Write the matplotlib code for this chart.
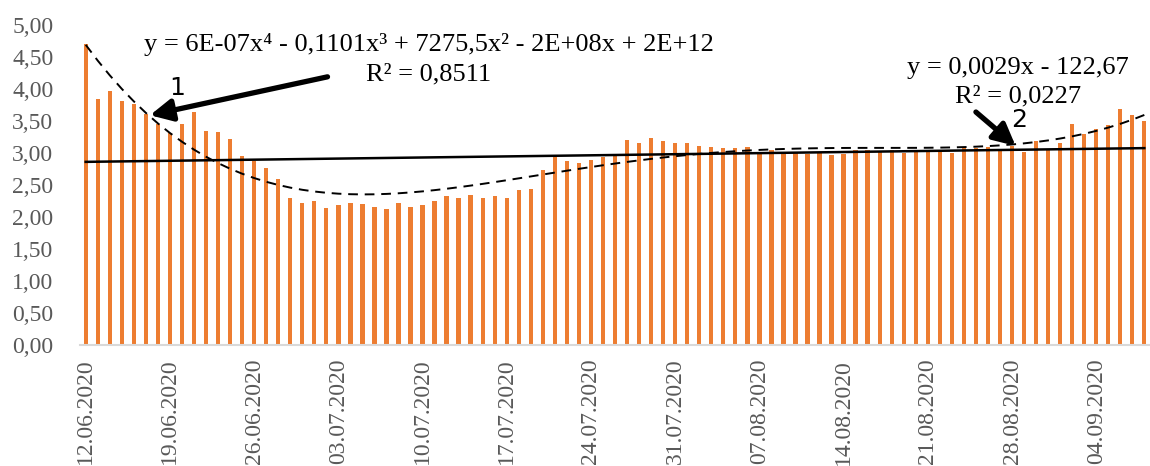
import numpy as np
import matplotlib
matplotlib.use('Agg')
import matplotlib.pyplot as plt
import pandas as pd

dates = pd.date_range('2020-06-12', '2020-09-08', freq='D')
values = [4.71, 3.85, 3.97, 3.81, 3.76, 3.61, 3.46, 3.31, 3.45, 3.64,
          3.35, 3.33, 3.22, 2.95, 2.88, 2.76, 2.59, 2.30, 2.22, 2.25,
          2.14, 2.18, 2.22, 2.20, 2.15, 2.13, 2.22, 2.15, 2.18, 2.25,
          2.33, 2.30, 2.34, 2.30, 2.32, 2.30, 2.42, 2.44, 2.73, 2.93,
          2.88, 2.85, 2.89, 2.94, 2.96, 3.21, 3.16, 3.23, 3.19, 3.16,
          3.16, 3.11, 3.09, 3.07, 3.07, 3.09, 3.01, 3.05, 3.01, 3.01,
          2.99, 3.02, 2.97, 2.99, 3.04, 3.05, 3.03, 3.04, 3.00, 3.02,
          3.04, 3.04, 3.00, 3.08, 3.08, 3.10, 3.05, 3.11, 3.02, 3.18,
          3.05, 3.16, 3.45, 3.30, 3.38, 3.43, 3.69, 3.60, 3.50]

eq_poly = 'y = 6E-07x⁴ - 0,1101x³ + 7275,5x² - 2E+08x + 2E+12'
r2_poly = 'R² = 0,8511'
eq_lin = 'y = 0,0029x - 122,67'
r2_lin = 'R² = 0,0227'

x = np.arange(len(values))
y = np.array(values)

# trend lines (as in Excel)
p4 = np.polyfit(x, y, 4)
p1 = np.polyfit(x, y, 1)

serif = ['Liberation Serif', 'DejaVu Serif']
gray = '#595959'

fig = plt.figure(figsize=(11.5, 4.66), dpi=100)
ax = fig.add_axes([0.0693, 0.2597, 0.931, 0.6867])

ax.bar(x, y, width=0.36, color='#ED7D31', zorder=2)
ax.plot(x, np.polyval(p1, x), color='black', lw=1.8, zorder=3)
ax.plot(x, np.polyval(p4, x), color='black', lw=1.4, ls=(0, (5, 3.5)), zorder=3)

ax.set_xlim(-0.5, len(values) - 0.5)
ax.set_ylim(0, 5)
ax.set_yticks(np.arange(0, 5.01, 0.5))
ax.set_yticklabels([f'{v:.2f}'.replace('.', ',') for v in np.arange(0, 5.01, 0.5)],
                   family=serif, fontsize=17, color=gray)
ticks = x[::7]
ax.set_xticks(ticks)
ax.set_xticklabels([dates[i].strftime('%d.%m.%Y') for i in ticks],
                   rotation=90, family=serif, fontsize=17, color=gray)
ax.tick_params(length=0, pad=10)
ax.tick_params(axis='y', pad=19)

for s in ['top', 'right', 'left']:
    ax.spines[s].set_visible(False)
ax.spines['bottom'].set_color('#d9d9d9')
ax.spines['bottom'].set_linewidth(1.5)

ax.text(28.5, 4.69, eq_poly, ha='center', va='center', family=serif, fontsize=19)
ax.text(28.5, 4.22, r2_poly, ha='center', va='center', family=serif, fontsize=19)
ax.text(77.5, 4.33, eq_lin, ha='center', va='center', family=serif, fontsize=19)
ax.text(77.5, 3.88, r2_lin, ha='center', va='center', family=serif, fontsize=19)

arrow = dict(arrowstyle='-|>,head_length=0.6,head_width=0.3', lw=3.8,
             color='black', mutation_scale=22, shrinkA=0, shrinkB=0)
ax.annotate('', xy=(5.34, 3.59), xytext=(20.1, 4.19), arrowprops=arrow, zorder=4)
ax.annotate('', xy=(77.3, 3.11), xytext=(74.0, 3.64), arrowprops=arrow, zorder=4)
ax.text(7.6, 4.02, '1', ha='center', va='center', fontsize=18, family='DejaVu Sans')
ax.text(77.6, 3.52, '2', ha='center', va='center', fontsize=18, family='DejaVu Sans')

fig.savefig('out.png', dpi=100)
